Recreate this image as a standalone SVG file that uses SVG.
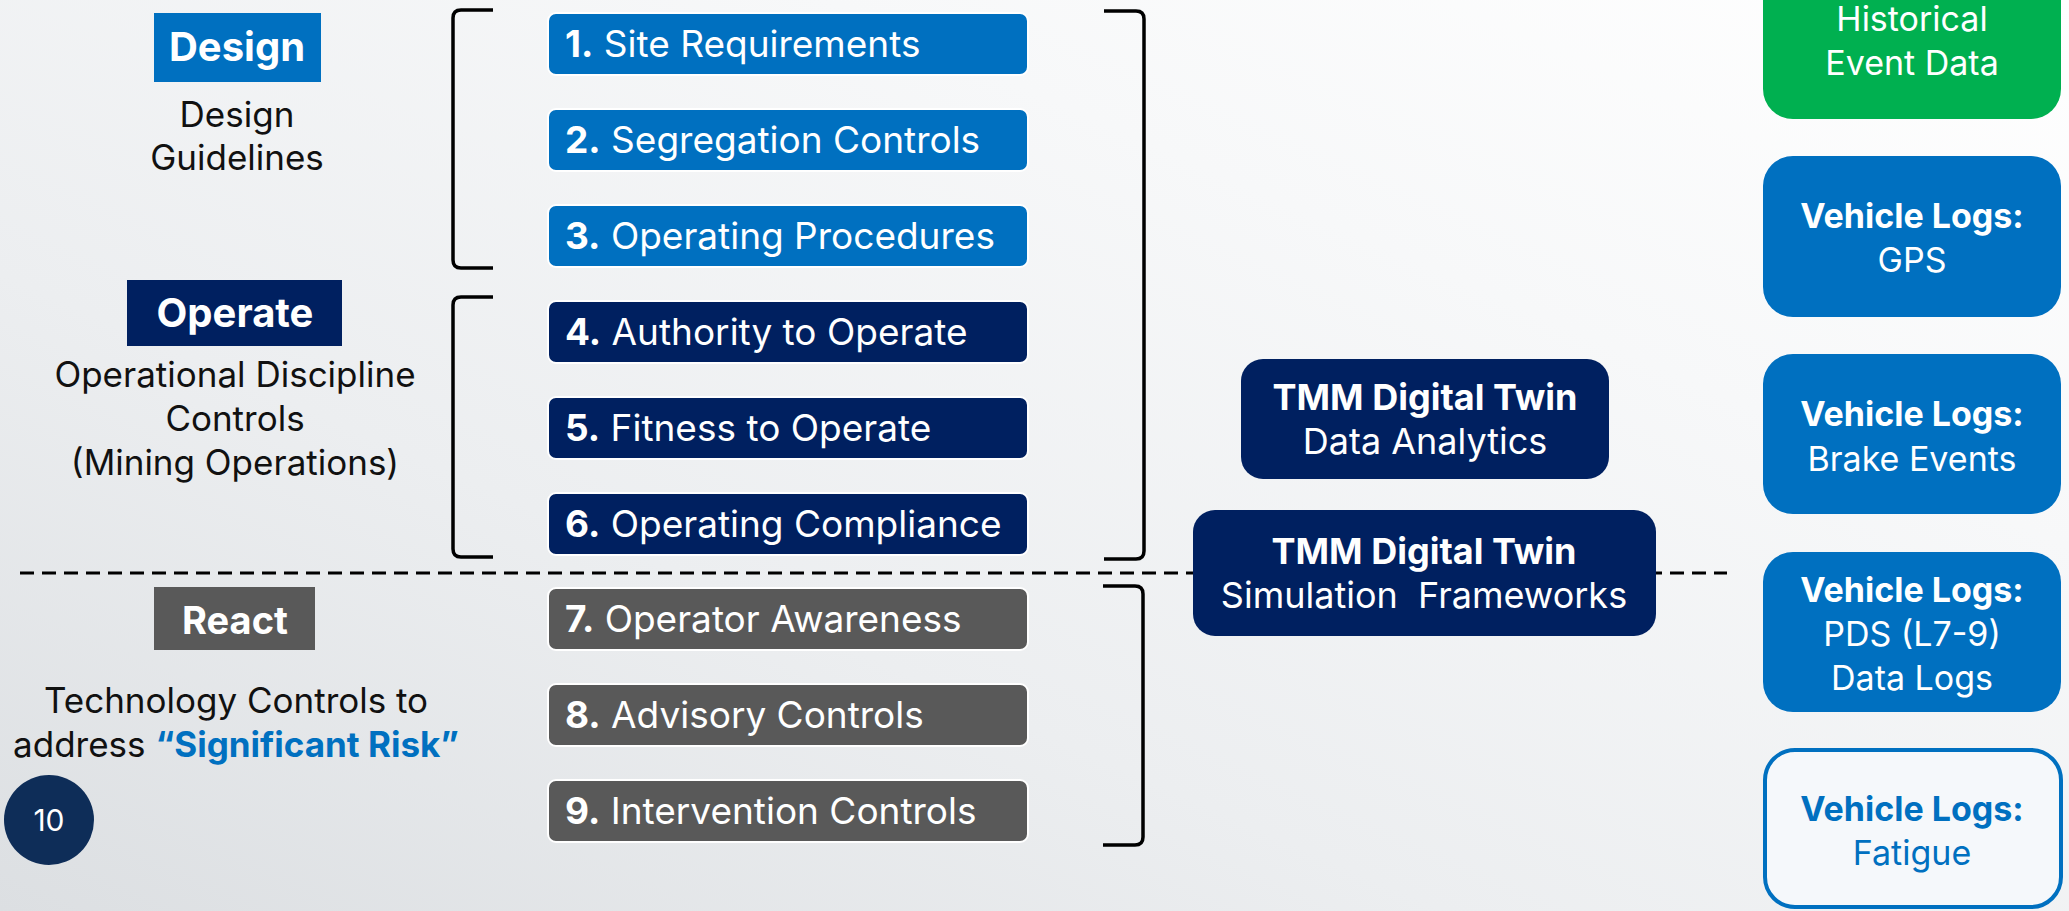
<svg xmlns="http://www.w3.org/2000/svg" width="2069" height="911" viewBox="0 0 2069 911">
<style>
text{font-family:Inter,"Open Sans","Noto Sans",sans-serif}
.w{fill:#fff}
.b{font-weight:700}
.lbl{font-size:34px}
.box{font-size:37px}
.tmm{font-size:36px}
.desc{font-size:35px;fill:#111;text-anchor:middle}
.hd{font-size:40px;font-weight:700;fill:#fff;text-anchor:middle}
.ctr{text-anchor:middle}
.c1{fill:#0070C0}
.c2{fill:#002060}
.c3{fill:#595959}
.ctl{stroke:#fff;stroke-width:2}
.br{fill:none;stroke:#000;stroke-width:3.5;stroke-linejoin:round}
.dash{stroke:#000;stroke-width:3;stroke-dasharray:14 8}
</style>
<defs>
<linearGradient id="bg" x1="0" y1="1" x2="1" y2="0">
<stop offset="0" stop-color="#dcdfe2"/>
<stop offset="0.35" stop-color="#eceef0"/>
<stop offset="0.7" stop-color="#f7f8f9"/>
<stop offset="1" stop-color="#ffffff"/>
</linearGradient>
</defs>
<rect x="0" y="0" width="2069" height="911" fill="url(#bg)"/>

<g id="connectors">
<path class="br" d="M493 10 L461 10 Q453 10 453 18 L453 260 Q453 268 461 268 L493 268"/>
<path class="br" d="M493 297 L461 297 Q453 297 453 305 L453 549 Q453 557 461 557 L493 557"/>
<path class="br" d="M1104 11 L1136 11 Q1144 11 1144 19 L1144 551 Q1144 559 1136 559 L1104 559"/>
<path class="br" d="M1103 586 L1135 586 Q1143 586 1143 594 L1143 837 Q1143 845 1135 845 L1103 845"/>
<line class="dash" x1="20" y1="573" x2="1727" y2="573"/>
</g>

<g id="design-label">
<rect x="154" y="13" width="167" height="69" class="c1"/>
<text x="237" y="61" class="hd">Design</text>
<text x="237" y="127" class="desc">Design</text>
<text x="237" y="170" class="desc">Guidelines</text>
</g>

<g id="operate-label">
<rect x="127" y="280" width="215" height="66" class="c2"/>
<text x="235" y="327" class="hd">Operate</text>
<text x="235" y="387" class="desc">Operational Discipline</text>
<text x="235" y="431" class="desc">Controls</text>
<text x="235" y="475" class="desc">(Mining Operations)</text>
</g>

<g id="react-label">
<rect x="154" y="587" width="161" height="63" class="c3"/>
<text x="235" y="634" class="hd" style="font-size:38px">React</text>
<text x="236" y="713" class="desc">Technology Controls to</text>
<text x="236" y="757" class="desc">address <tspan fill="#0070C0" font-weight="700">“Significant Risk”</tspan></text>
</g>

<g id="page-number">
<circle cx="49" cy="820" r="45" fill="#0E2D58"/>
<text x="49" y="831" class="w ctr" style="font-size:30px">10</text>
</g>

<g id="c1"><rect x="548" y="13" width="480" height="62" rx="8" class="c1 ctl"/><text x="565" y="57" class="w box"><tspan class="b">1.</tspan> Site Requirements</text></g>
<g id="c2"><rect x="548" y="109" width="480" height="62" rx="8" class="c1 ctl"/><text x="565" y="153" class="w box"><tspan class="b">2.</tspan> Segregation Controls</text></g>
<g id="c3"><rect x="548" y="205" width="480" height="62" rx="8" class="c1 ctl"/><text x="565" y="249" class="w box"><tspan class="b">3.</tspan> Operating Procedures</text></g>
<g id="c4"><rect x="548" y="301" width="480" height="62" rx="8" class="c2 ctl"/><text x="565" y="345" class="w box"><tspan class="b">4.</tspan> Authority to Operate</text></g>
<g id="c5"><rect x="548" y="397" width="480" height="62" rx="8" class="c2 ctl"/><text x="565" y="441" class="w box"><tspan class="b">5.</tspan> Fitness to Operate</text></g>
<g id="c6"><rect x="548" y="493" width="480" height="62" rx="8" class="c2 ctl"/><text x="565" y="537" class="w box"><tspan class="b">6.</tspan> Operating Compliance</text></g>
<g id="c7"><rect x="548" y="588" width="480" height="62" rx="8" class="c3 ctl"/><text x="565" y="632" class="w box"><tspan class="b">7.</tspan> Operator Awareness</text></g>
<g id="c8"><rect x="548" y="684" width="480" height="62" rx="8" class="c3 ctl"/><text x="565" y="728" class="w box"><tspan class="b">8.</tspan> Advisory Controls</text></g>
<g id="c9"><rect x="548" y="780" width="480" height="62" rx="8" class="c3 ctl"/><text x="565" y="824" class="w box"><tspan class="b">9.</tspan> Intervention Controls</text></g>

<g id="tmm-analytics">
<rect x="1241" y="359" width="368" height="120" rx="22" class="c2"/>
<text x="1425" y="410" class="w ctr tmm b">TMM Digital Twin</text>
<text x="1425" y="454" class="w ctr tmm">Data Analytics</text>
</g>
<g id="tmm-simulation">
<rect x="1193" y="510" width="463" height="126" rx="22" class="c2"/>
<text x="1424" y="564" class="w ctr tmm b">TMM Digital Twin</text>
<text x="1424" y="608" class="w ctr tmm" xml:space="preserve">Simulation  Frameworks</text>
</g>

<g id="historical">
<rect x="1763" y="-40" width="298" height="159" rx="30" fill="#00B050"/>
<text x="1912" y="31" class="w ctr lbl">Historical</text>
<text x="1912" y="75" class="w ctr lbl">Event Data</text>
</g>
<g id="gps">
<rect x="1763" y="156" width="298" height="161" rx="30" class="c1"/>
<text x="1912" y="228" class="w ctr lbl b">Vehicle Logs:</text>
<text x="1912" y="272" class="w ctr lbl">GPS</text>
</g>
<g id="brake">
<rect x="1763" y="354" width="298" height="160" rx="30" class="c1"/>
<text x="1912" y="426" class="w ctr lbl b">Vehicle Logs:</text>
<text x="1912" y="471" class="w ctr lbl">Brake Events</text>
</g>
<g id="pds">
<rect x="1763" y="552" width="298" height="160" rx="30" class="c1"/>
<text x="1912" y="602" class="w ctr lbl b">Vehicle Logs:</text>
<text x="1912" y="646" class="w ctr lbl">PDS (L7-9)</text>
<text x="1912" y="690" class="w ctr lbl">Data Logs</text>
</g>
<g id="fatigue">
<rect x="1765" y="750" width="296" height="157" rx="30" fill="#f5f8fb" stroke="#0070C0" stroke-width="4"/>
<text x="1912" y="821" class="ctr lbl b" fill="#0070C0">Vehicle Logs:</text>
<text x="1912" y="865" class="ctr lbl" fill="#0070C0">Fatigue</text>
</g>
</svg>
